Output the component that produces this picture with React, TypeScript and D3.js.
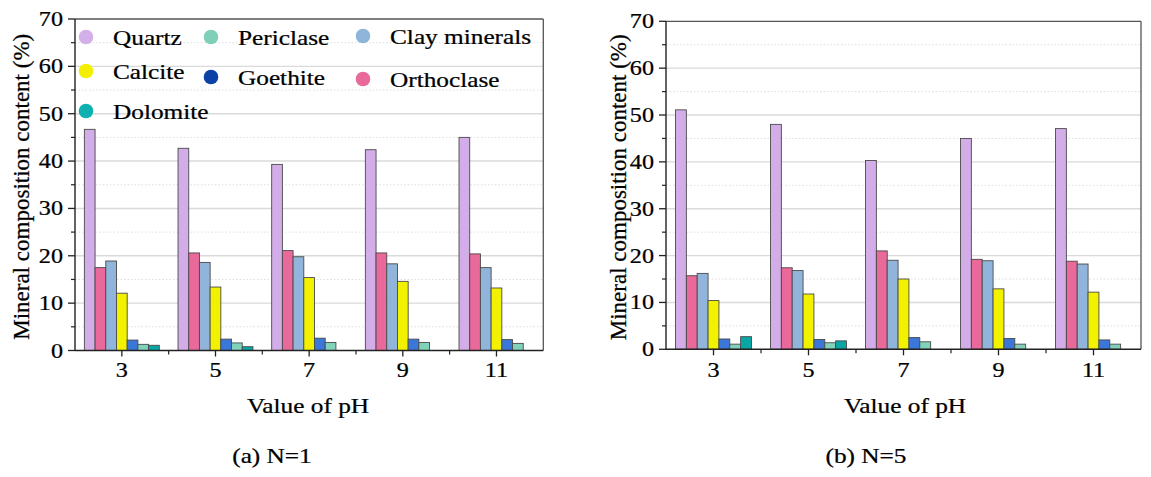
import React from "react";
import * as d3 from "d3";

// ---------- data ----------
const phValues = [3, 5, 7, 9, 11];
const barOrder = ["Quartz", "Orthoclase", "Clay minerals", "Calcite", "Goethite", "Periclase", "Dolomite"];
const legendOrder = ["Quartz", "Periclase", "Clay minerals", "Calcite", "Goethite", "Orthoclase", "Dolomite"];
const yTickValues = [0, 10, 20, 30, 40, 50, 60, 70];

const quartzN1 = [46.7, 42.7, 39.3, 42.4, 45.0];
const orthoclaseN1 = [17.5, 20.6, 21.1, 20.6, 20.4];
const clayN1 = [18.9, 18.6, 19.8, 18.3, 17.5];
const calciteN1 = [12.1, 13.4, 15.4, 14.6, 13.2];
const goethiteN1 = [2.2, 2.4, 2.6, 2.4, 2.3];
const periclaseN1 = [1.3, 1.6, 1.7, 1.7, 1.5];
const dolomiteN1 = [1.1, 0.8, 0, 0, 0];

const quartzN5 = [51.1, 48.0, 40.3, 45.0, 47.1];
const orthoclaseN5 = [15.7, 17.4, 21.0, 19.2, 18.8];
const clayN5 = [16.2, 16.8, 19.0, 18.9, 18.2];
const calciteN5 = [10.4, 11.8, 15.0, 12.9, 12.2];
const goethiteN5 = [2.2, 2.1, 2.5, 2.3, 2.0];
const periclaseN5 = [1.1, 1.4, 1.6, 1.1, 1.1];
const dolomiteN5 = [2.7, 1.8, 0, 0, 0];

const seriesN1 = [quartzN1, orthoclaseN1, clayN1, calciteN1, goethiteN1, periclaseN1, dolomiteN1];
const seriesN5 = [quartzN5, orthoclaseN5, clayN5, calciteN5, goethiteN5, periclaseN5, dolomiteN5];

// ---------- styles ----------
const barColors: Record<string, string> = {
  Quartz: "#d3ade8",
  Orthoclase: "#e8699a",
  "Clay minerals": "#91b5da",
  Calcite: "#f2f200",
  Goethite: "#3b76d9",
  Periclase: "#80d2ba",
  Dolomite: "#0aa6a6",
};
const legendColors: Record<string, string> = {
  Quartz: "#d4b0ea",
  Orthoclase: "#e8699a",
  "Clay minerals": "#90b5da",
  Calcite: "#f2f000",
  Goethite: "#0c41a5",
  Periclase: "#80d0b9",
  Dolomite: "#0fb0b0",
};

const FONT = '"Liberation Serif", "Times New Roman", serif';
const SX = 1.15;

// legend layout (circle centre)
const legendSlots = [
  { x: 86, y: 37 },
  { x: 211, y: 37 },
  { x: 363, y: 36 },
  { x: 86, y: 71 },
  { x: 211, y: 77 },
  { x: 363, y: 79 },
  { x: 86, y: 111 },
];

const panels = [
  {
    series: seriesN1,
    x0: 75, x1: 543.3, yBottom: 350.5, yTop: 19,
    titleX: 29, xTitleX: 308, caption: "(a) N=1", captionX: 272,
    legend: true,
  },
  {
    series: seriesN5,
    x0: 666, x1: 1141, yBottom: 349.3, yTop: 21.3,
    titleX: 626, xTitleX: 905, caption: "(b) N=5", captionX: 866,
    legend: false,
  },
];

function HText({ x, y, anchor = "start", size = 22, children }: any) {
  return (
    <g transform={`translate(${x},${y}) scale(${SX},1)`}>
      <text x={0} y={0} textAnchor={anchor} fontFamily={FONT} fontSize={size} fill="#000" stroke="#000" strokeWidth={0.25}>
        {children}
      </text>
    </g>
  );
}

function Panel({ p }: any) {
  const x = d3.scaleLinear().domain([2, 12]).range([p.x0, p.x1]);
  const y = d3.scaleLinear().domain([0, 70]).range([p.yBottom, p.yTop]);
  const groupWidth = 1.6;
  const bw = groupWidth / barOrder.length;
  const majorGrid = d3.range(10, 70, 10);
  const minorGrid = d3.range(5, 70, 10);
  const minorX = d3.range(4, 12, 2);
  return (
    <g>
      {/* grid */}
      {minorGrid.map((v) => (
        <line key={"mg" + v} x1={p.x0} x2={p.x1} y1={y(v)} y2={y(v)} stroke="#dedede" strokeWidth={1} strokeDasharray="1.5,2" />
      ))}
      {majorGrid.map((v) => (
        <line key={"Mg" + v} x1={p.x0} x2={p.x1} y1={y(v)} y2={y(v)} stroke="#dadada" strokeWidth={1.4} />
      ))}
      {/* bars */}
      {phValues.map((ph, gi) =>
        barOrder.map((name, si) => {
          const v = p.series[si][gi];
          if (!v) return null;
          const bx = x(ph - groupWidth / 2 + si * bw);
          const bx2 = x(ph - groupWidth / 2 + (si + 1) * bw);
          return (
            <rect
              key={name + ph}
              x={bx}
              y={y(v)}
              width={bx2 - bx}
              height={y(0) - y(v)}
              fill={barColors[name]}
              stroke="#4a4a4a"
              strokeWidth={0.9}
            />
          );
        })
      )}
      {/* frame */}
      <line x1={p.x0} x2={p.x1} y1={p.yTop} y2={p.yTop} stroke="#555" strokeWidth={1.3} />
      <line x1={p.x1} x2={p.x1} y1={p.yTop} y2={p.yBottom} stroke="#555" strokeWidth={1.3} />
      <line x1={p.x0} x2={p.x0} y1={p.yTop} y2={p.yBottom} stroke="#222" strokeWidth={1.4} />
      <line x1={p.x0} x2={p.x1} y1={p.yBottom} y2={p.yBottom} stroke="#222" strokeWidth={1.4} />
      {/* y ticks */}
      {yTickValues.map((v) => (
        <g key={"yt" + v}>
          <line x1={p.x0 - 7} x2={p.x0} y1={y(v)} y2={y(v)} stroke="#222" strokeWidth={1.3} />
          <HText x={p.x0 - 12} y={y(v) + 7} anchor="end" size={21}>
            {v}
          </HText>
        </g>
      ))}
      {minorGrid.map((v) => (
        <line key={"ymt" + v} x1={p.x0 - 4} x2={p.x0} y1={y(v)} y2={y(v)} stroke="#222" strokeWidth={1.2} />
      ))}
      {/* x ticks */}
      {phValues.map((ph) => (
        <g key={"xt" + ph}>
          <line x1={x(ph)} x2={x(ph)} y1={p.yBottom} y2={p.yBottom + 6} stroke="#222" strokeWidth={1.3} />
          <HText x={x(ph)} y={377} anchor="middle" size={21}>
            {ph}
          </HText>
        </g>
      ))}
      {minorX.map((v) => (
        <line key={"xm" + v} x1={x(v)} x2={x(v)} y1={p.yBottom} y2={p.yBottom + 4} stroke="#222" strokeWidth={1.2} />
      ))}
      {/* titles */}
      <text
        transform={`translate(${p.titleX},${(p.yTop + p.yBottom) / 2 + 2}) rotate(-90)`}
        textAnchor="middle"
        fontFamily={FONT}
        fontSize={23}
        fill="#000"
        stroke="#000"
        strokeWidth={0.25}
      >
        Mineral composition content (%)
      </text>
      <HText x={p.xTitleX} y={413} anchor="middle" size={22}>
        Value of pH
      </HText>
      <HText x={p.captionX} y={463} anchor="middle" size={22}>
        {p.caption}
      </HText>
      {/* legend */}
      {p.legend &&
        legendOrder.map((name, i) => {
          const s = legendSlots[i];
          return (
            <g key={"lg" + name}>
              <circle cx={s.x} cy={s.y} r={7.3} fill={legendColors[name]} />
              <HText x={s.x + 27} y={s.y + 8} size={22}>
                {name}
              </HText>
            </g>
          );
        })}
    </g>
  );
}

export default function App() {
  return (
    <svg
      width={1151}
      height={477}
      style={{ position: "absolute", left: 0, top: 0, background: "#fff" }}
    >
      <rect x={0} y={0} width={1151} height={477} fill="#fff" />
      {panels.map((p, i) => (
        <Panel key={i} p={p} />
      ))}
    </svg>
  );
}
